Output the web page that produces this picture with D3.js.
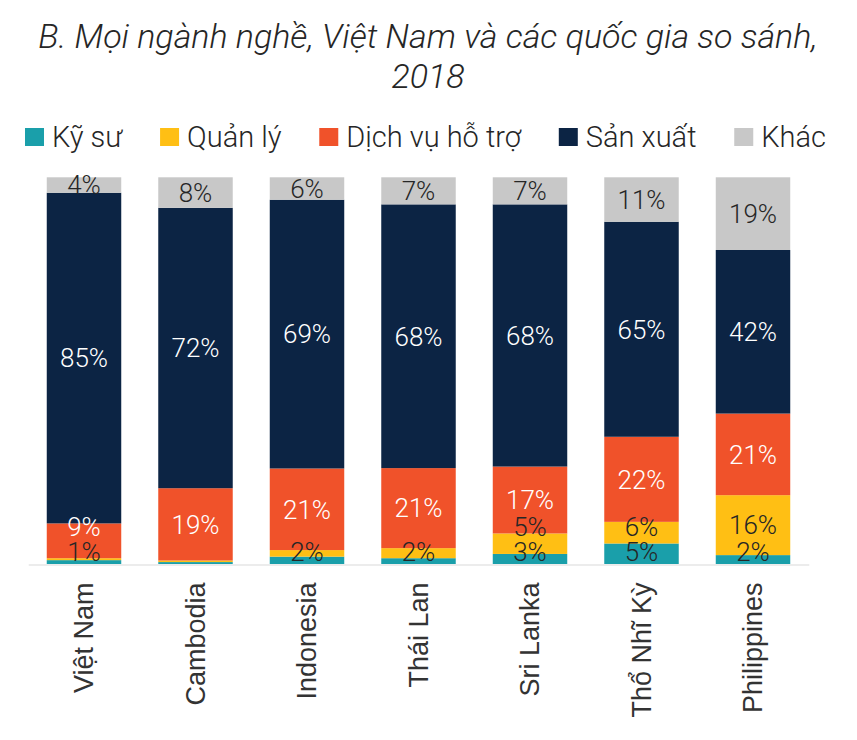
<!DOCTYPE html>
<html><head><meta charset="utf-8">
<script src="https://cdn.jsdelivr.net/npm/d3@7"></script>
<style>body{margin:0;background:#fff}</style>
</head><body>
<svg id="chart" width="857" height="740"></svg>
<script>
// ---- data ----
const countries = ["Việt Nam","Cambodia","Indonesia","Thái Lan","Sri Lanka","Thổ Nhĩ Kỳ","Philippines"];
const seriesNames = ["Kỹ sư","Quản lý","Dịch vụ hỗ trợ","Sản xuất","Khác"];
const kySu    = [1.0, 0.5, 1.9, 1.5, 2.6, 5.3, 2.3];
const quanLy  = [0.5, 0.4, 1.7, 2.6, 5.3, 5.6, 15.5];
const dichVu  = [9.0, 18.7, 21.1, 20.7, 17.3, 22.0, 21.1];
const sanXuat = [85.5, 72.5, 69.5, 68.2, 67.8, 55.6, 42.3];
const khac    = [4.0, 7.9, 5.8, 7.0, 7.0, 11.5, 18.8];
// printed data labels, as shown in the chart
const kySuLabels    = ["1%","","2%","2%","3%","5%","2%"];
const quanLyLabels  = ["","","","","5%","6%","16%"];
const dichVuLabels  = ["9%","19%","21%","21%","17%","22%","21%"];
const sanXuatLabels = ["85%","72%","69%","68%","68%","65%","42%"];
const khacLabels    = ["4%","8%","6%","7%","7%","11%","19%"];
const titleLines = ["B. Mọi ngành nghề, Việt Nam và các quốc gia so sánh,", "2018"];

// ---- styles ----
const colors = ["#1a9faa","#ffbf14","#f0522a","#0c2444","#c8c8c8"];
const labelColors = ["#262626","#262626","#ffffff","#ffffff","#262626"];
const seriesValues = [kySu, quanLy, dichVu, sanXuat, khac];
const seriesLabels = [kySuLabels, quanLyLabels, dichVuLabels, sanXuatLabels, khacLabels];

const svg = d3.select("#chart");
const textFont = "Roboto, 'Noto Sans', sans-serif";

// title (fitted to the reference's title width)
const title = svg.append("g").selectAll("text").data(titleLines).join("text")
  .attr("x", 428).attr("y", (d,i) => 48 + i*40)
  .attr("text-anchor","middle")
  .style("font-family", textFont).style("font-weight", 300).style("font-style","italic")
  .style("font-size","30px").attr("fill","#262626")
  .text(d => d);
const w0 = title.nodes()[0].getComputedTextLength();
title.style("font-size", Math.min(34, 30 * 796 / w0) + "px");

// legend (spread between x=25 and x=826)
const legend = svg.append("g");
const items = seriesNames.map((name, i) => {
  const g = legend.append("g");
  g.append("rect").attr("x", 0).attr("y", 128).attr("width", 19).attr("height", 18).attr("fill", colors[i]);
  const t = g.append("text").attr("x", 27).attr("y", 137).attr("dy","0.36em")
    .style("font-family", textFont).style("font-weight", 300).style("font-size","29px")
    .attr("fill","#262626").text(name);
  return {g, w: 27 + t.node().getComputedTextLength()};
});
const totalW = d3.sum(items, d => d.w);
const gap = (801 - totalW) / (items.length - 1);
let lx = 25;
items.forEach(it => { it.g.attr("transform", `translate(${lx},0)`); lx += it.w + gap; });

// scales
const x = d3.scaleBand().domain(countries).range([28.25, 808.75]).paddingInner(0.332).paddingOuter(0.166);
const y = d3.scaleLinear().domain([0, 100]).range([564, 177.3]);

const table = countries.map((c, i) => {
  const row = {country: c};
  seriesNames.forEach((s, j) => row[s] = seriesValues[j][i]);
  return row;
});
const stacked = d3.stack().keys(seriesNames)(table);

// bars
svg.append("g").selectAll("g").data(stacked).join("g")
  .attr("fill", (d, j) => colors[j])
  .selectAll("rect").data(d => d).join("rect")
  .attr("x", d => x(d.data.country))
  .attr("width", x.bandwidth())
  .attr("y", d => y(d[1]))
  .attr("height", d => y(d[0]) - y(d[1]));

// x axis
const axis = svg.append("g").attr("transform", `translate(0,${y(0) + 0.5})`)
  .call(d3.axisBottom(x).tickSize(0).tickPadding(0));
axis.select(".domain").attr("stroke", "#d9d9d9").attr("stroke-width", 1.2);
axis.selectAll(".tick text")
  .attr("transform", "rotate(-90)")
  .attr("text-anchor", "end")
  .attr("x", -18).attr("y", 0).attr("dy", "0.35em")
  .style("font-family", "'Liberation Sans', Arial, sans-serif")
  .style("font-size", "27px").attr("fill", "#333333");

// data labels (centered in segments, stacked bottom labels nudged apart)
const labelG = svg.append("g").style("font-family", textFont).style("font-weight", 300).style("font-size", "26px");
countries.forEach((c, i) => {
  let prev = Infinity;
  stacked.forEach((layer, j) => {
    const txt = seriesLabels[j][i];
    if (!txt) return;
    const seg = layer[i];
    let cy = (y(seg[0]) + y(seg[1])) / 2;
    cy = Math.min(cy, y(0) - 12, prev - 25);
    prev = cy;
    labelG.append("text")
      .attr("x", x(c) + x.bandwidth() / 2).attr("y", cy).attr("dy", "0.36em")
      .attr("text-anchor", "middle").attr("fill", labelColors[j]).text(txt);
  });
});
</script>
</body></html>
